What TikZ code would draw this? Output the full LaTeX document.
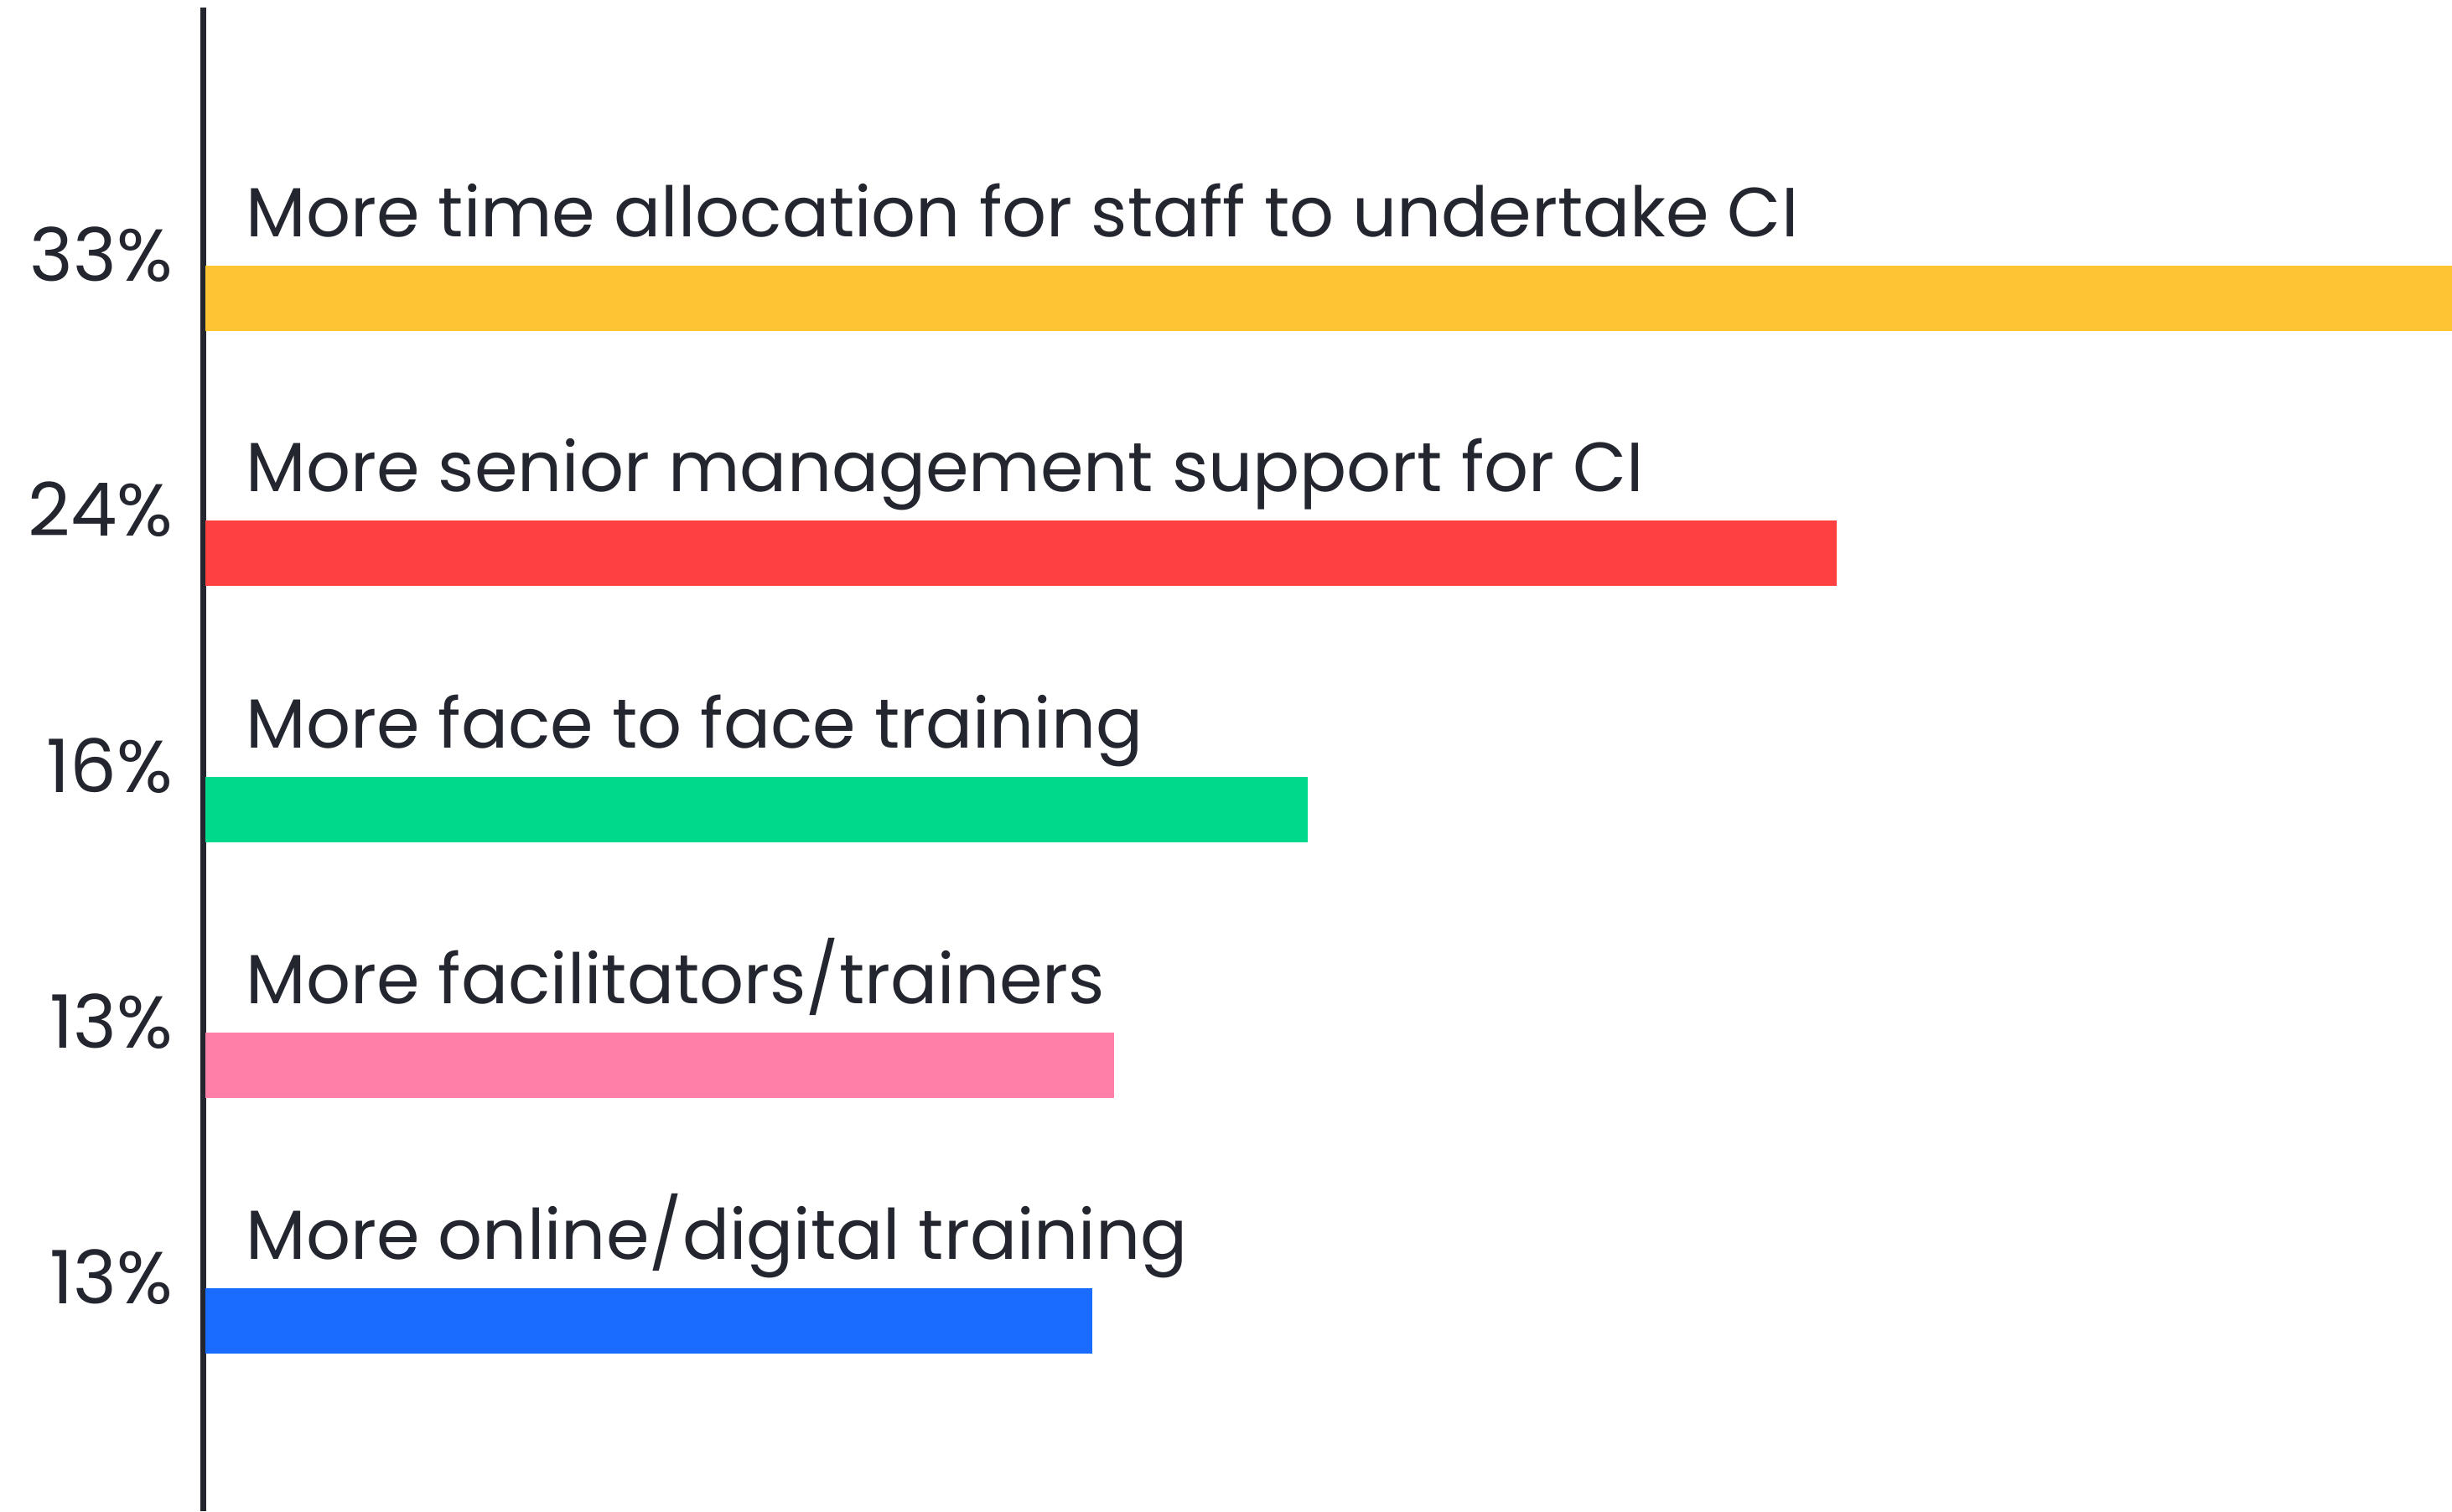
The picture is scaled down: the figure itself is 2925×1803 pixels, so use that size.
\documentclass[tikz,border=0pt]{standalone}
\usepackage{fontspec}
\setmainfont{Poppins}
\usetikzlibrary{positioning}
\definecolor{ink}{HTML}{23262F}
\definecolor{barYellow}{HTML}{FDC434}
\definecolor{barRed}{HTML}{FF4040}
\definecolor{barGreen}{HTML}{00D88C}
\definecolor{barPink}{HTML}{FF7FA8}
\definecolor{barBlue}{HTML}{1A6BFF}
\tikzset{
  bar/.style={anchor=west, minimum height=0.78cm, inner sep=0pt, outer sep=0pt},
  answer/.style={anchor=base west, inner sep=0pt, text=ink, font=\fontsize{23.6pt}{28pt}\selectfont},
  share/.style={anchor=east, inner sep=0pt, text=ink, font=\fontsize{25pt}{30pt}\selectfont},
}

\begin{document}
\begin{tikzpicture}[x=0.01cm,y=-0.01cm]
\useasboundingbox[fill=white] (0,0) rectangle (2925,1803);

\coordinate (axisTop) at (242,9);
\coordinate (axisEnd) at (242,1803);
\draw[ink, line width=0.07cm] (axisTop) -- (axisEnd);

\node[bar, fill=barYellow, minimum width=26.80cm] (timeBar) at (245,356) {};
\node[bar, fill=barRed, minimum width=19.45cm] (mgmtBar) at (245,660) {};
\node[bar, fill=barGreen, minimum width=13.14cm] (faceBar) at (245,966) {};
\node[bar, fill=barPink, minimum width=10.83cm] (facBar) at (245,1271) {};
\node[bar, fill=barBlue, minimum width=10.57cm] (onlineBar) at (245,1576) {};

\node[answer] (timeText) at ([xshift=0.48cm,yshift=0.34cm]timeBar.north west) {More time allocation for staff to undertake CI};
\node[answer] (mgmtText) at ([xshift=0.48cm,yshift=0.34cm]mgmtBar.north west) {More senior management support for CI};
\node[answer] (faceText) at ([xshift=0.48cm,yshift=0.34cm]faceBar.north west) {More face to face training};
\node[answer] (facText) at ([xshift=0.48cm,yshift=0.34cm]facBar.north west) {More facilitators/trainers};
\node[answer] (onlineText) at ([xshift=0.48cm,yshift=0.34cm]onlineBar.north west) {More online/digital training};

\node[share] (timeShare) at ([xshift=-0.38cm,yshift=0.13cm]timeBar.north west) {33\%};
\node[share] (mgmtShare) at ([xshift=-0.38cm,yshift=0.13cm]mgmtBar.north west) {24\%};
\node[share] (faceShare) at ([xshift=-0.38cm,yshift=0.13cm]faceBar.north west) {16\%};
\node[share] (facShare) at ([xshift=-0.38cm,yshift=0.13cm]facBar.north west) {13\%};
\node[share] (onlineShare) at ([xshift=-0.38cm,yshift=0.13cm]onlineBar.north west) {13\%};
\end{tikzpicture}
\end{document}
